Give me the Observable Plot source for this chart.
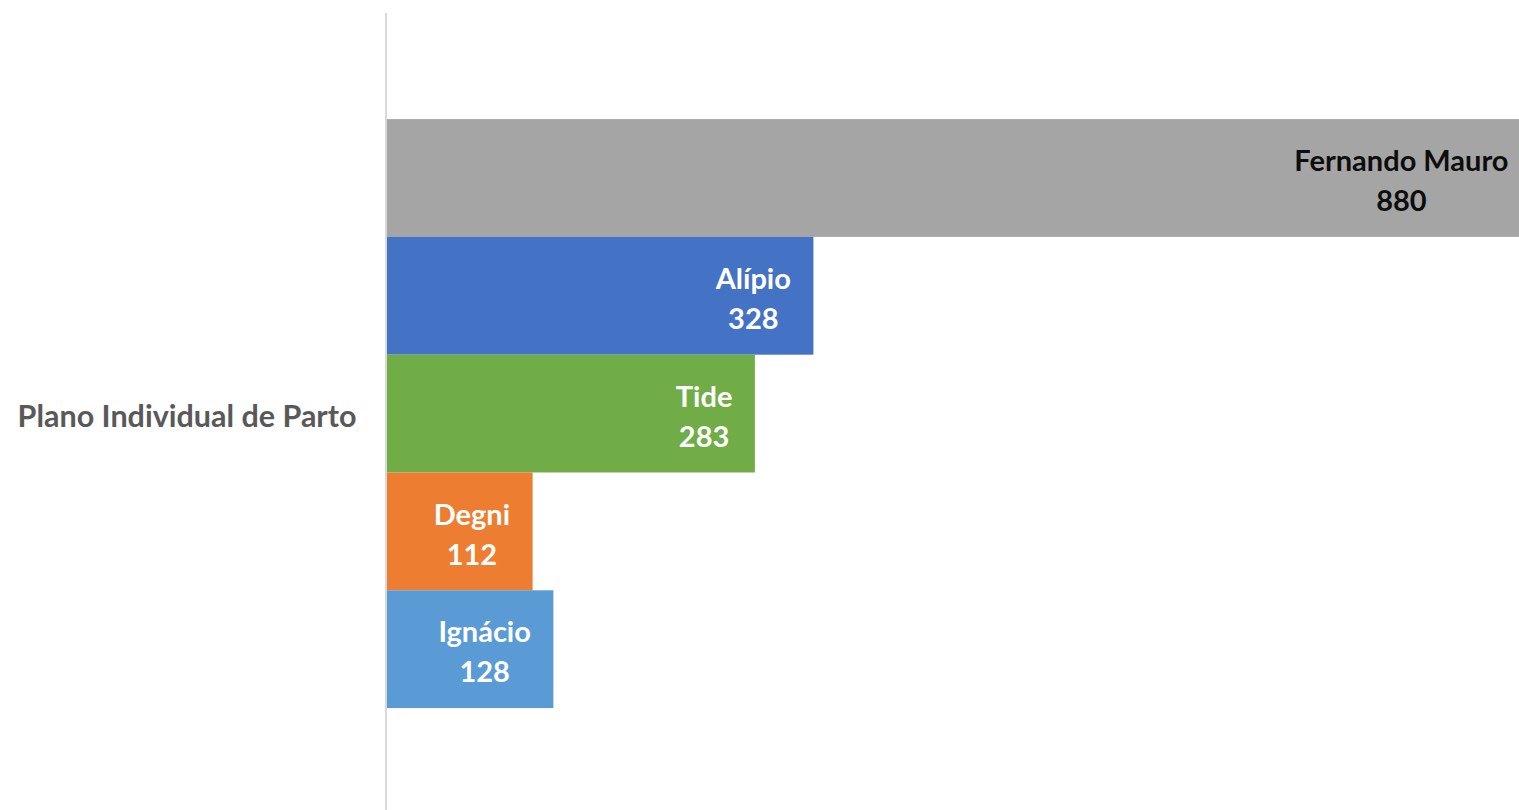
<!DOCTYPE html>
<html>
<head>
<meta charset="utf-8">
<script src="https://cdn.jsdelivr.net/npm/d3@7"></script>
<script src="https://cdn.jsdelivr.net/npm/@observablehq/plot@0.6"></script>
<style>
  html, body { margin: 0; padding: 0; background: #fff; overflow: hidden; }
  #chart svg { display: block; max-width: none; }
</style>
</head>
<body>
<div id="chart"></div>
<script>
const categories = ["Plano Individual de Parto"];
const seriesNames = ["Fernando Mauro", "Alípio", "Tide", "Degni", "Ignácio"];
const seriesValues = [880, 328, 283, 112, 128];
const seriesColors = ["#A5A5A5", "#4472C4", "#70AD47", "#ED7D31", "#5B9BD5"];

const data = seriesNames.map((s, i) => ({category: categories[0], series: s, value: seriesValues[i]}));
const labelText = d => d.series + "\n" + d.value;
const labelOpts = {
  fy: "category", y: "series", x: "value", text: labelText,
  textAnchor: "end", dx: -23, fontSize: 29, fontWeight: "bold", lineHeight: 1.38
};

const chart = Plot.plot({
  width: 1519,
  height: 810,
  marginLeft: 387,
  marginRight: 0,
  marginTop: 13,
  marginBottom: 0,
  style: {fontFamily: "Lato, sans-serif", background: "#fff"},
  x: {domain: [0, 880], range: [387, 1531], axis: null},
  y: {domain: seriesNames, paddingInner: 0, paddingOuter: 0.883, align: 0.51, round: false, axis: null},
  fy: {domain: categories, padding: 0, round: false, label: null},
  color: {domain: seriesNames, range: seriesColors},
  marks: [
    Plot.barX(data, {fy: "category", y: "series", x: "value", fill: "series", clip: true}),
    Plot.text(data, {...labelOpts, filter: d => d.series === "Fernando Mauro", fill: "#0d0d0d"}),
    Plot.text(data, {...labelOpts, filter: d => d.series !== "Fernando Mauro", fill: "#ffffff"}),
    Plot.ruleX([0], {stroke: "#d9d9d9", strokeWidth: 2, dx: -1.5}),
    Plot.axisFy({anchor: "left", tickSize: 0, tickPadding: 31, dy: 5, fontSize: 30.5, fontWeight: "bold", fill: "#595959", label: null})
  ]
});
document.getElementById("chart").append(chart);

function centerLines() {
  chart.querySelectorAll("text").forEach(t => {
    const spans = Array.from(t.querySelectorAll("tspan"));
    if (spans.length !== 2) return;
    const w = Math.max(...spans.map(s => s.getComputedTextLength()));
    t.setAttribute("text-anchor", "middle");
    spans.forEach(s => s.setAttribute("x", (parseFloat(s.getAttribute("x")) || 0) - w / 2));
  });
}
centerLines();
</script>
</body>
</html>
